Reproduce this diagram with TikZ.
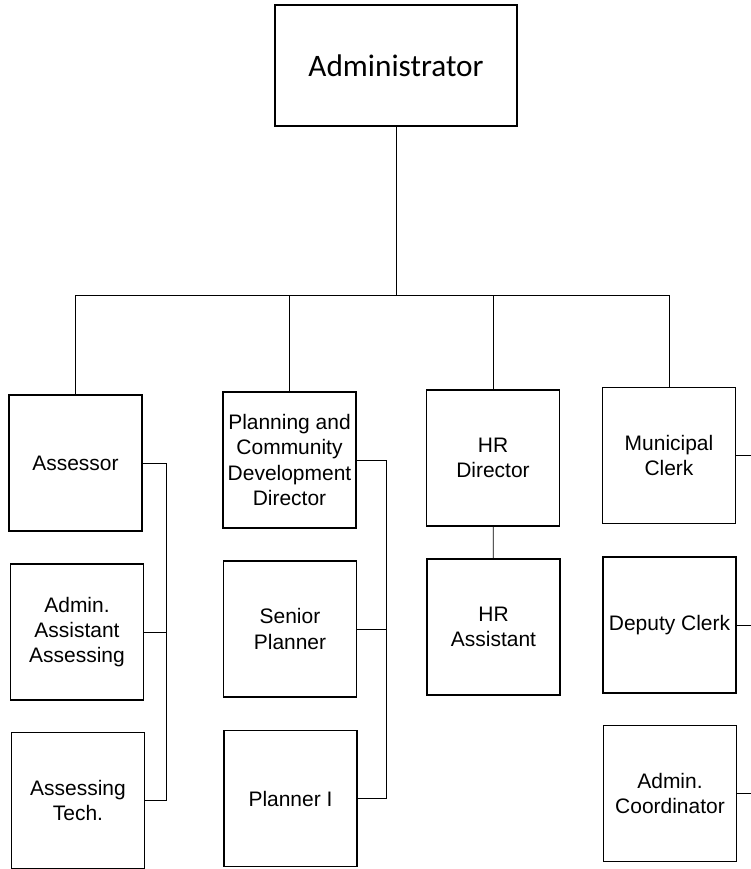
\documentclass[tikz,border=0pt]{standalone}
\usepackage{fontspec}
\setmainfont{Liberation Sans}
\newfontfamily\headfont{Carlito}
\usepackage{tikz}

\begin{document}
\begin{tikzpicture}[x=0.3mm, y=-0.3mm,
    post/.style={draw, line width=1.1pt, minimum width=39.9mm, minimum height=40.8mm,
      align=center, inner sep=2pt, font=\fontsize{17.9pt}{21.4pt}\selectfont},
    head/.style={post, minimum width=72.6mm, minimum height=36.3mm,
      font=\headfont\fontsize{26.7pt}{32pt}\selectfont},
    link/.style={line width=0.6pt}]
  \useasboundingbox (0,0) rectangle (751,869);

  \node[head] (admin) at (396,65.5) {Administrator};

  \foreach \n/\x/\y/\t in {assessor/75.5/463/Assessor,
      aaa/77/632/{Admin.\\Assistant\\Assessing},
      tech/78/800.5/{Assessing\\Tech.},
      pcdd/289.5/460/{Planning and\\Community\\Development\\Director},
      senior/290/629/{Senior\\Planner},
      planner/290.5/798.5/{Planner I},
      hrdir/493/458/{HR\\Director},
      hrasst/493.5/627/{HR\\Assistant},
      clerk/669/455.5/{Municipal\\Clerk},
      deputy/669.5/625/{Deputy Clerk},
      coord/670/793.5/{Admin.\\Coordinator}}{%
    \node[post] (\n) at (\x,\y) {\t};
  }

  \coordinate (bus) at (0,295);
  \coordinate (brA) at (166,0);
  \coordinate (brP) at (386,0);
  \coordinate (edge) at (751,0);

  \foreach \n in {assessor,pcdd,hrdir,clerk}
    \draw[link] (admin.south) |- (\n.north |- bus) -- (\n.north);

  \draw[link] (assessor.east) -- (assessor.east -| brA) |- (tech.east);
  \draw[link] (aaa.east) -- (aaa.east -| brA);
  \draw[link] (pcdd.east) -- (pcdd.east -| brP) |- (planner.east);
  \draw[link] (senior.east) -- (senior.east -| brP);
  \draw[link] (hrdir) -- (hrasst);
  \foreach \n in {clerk,deputy,coord}
    \draw[link] (\n.east) -- (\n.east -| edge);
\end{tikzpicture}
\end{document}
